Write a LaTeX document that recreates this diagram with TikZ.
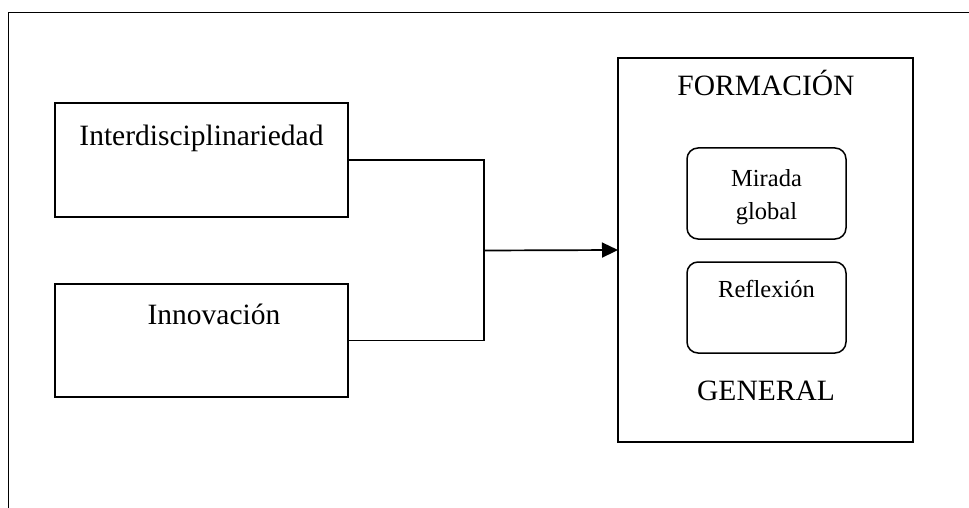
\documentclass[tikz,border=0pt]{standalone}
\usepackage{fontspec}
\setmainfont{Liberation Serif}
\usetikzlibrary{arrows.meta}
\tikzset{
  boxsq/.style={draw, line width=1.7pt, inner sep=0pt, outer sep=0pt},
  boxrd/.style={draw, line width=1.5pt, rounded corners=11pt, inner sep=0pt, outer sep=0pt},
  bigtxt/.style={font=\fontsize{29.5}{34}\selectfont, anchor=base, inner sep=0pt},
  smalltxt/.style={font=\fontsize{24.5}{33}\selectfont, anchor=base, inner sep=0pt},
  conn/.style={line width=1.7pt}
}
\begin{document}
\begin{tikzpicture}[x=1pt,y=-1pt]
\useasboundingbox (0,0) rectangle (969,508);
% outer frame (top and left edges only visible)
\coordinate (fa) at (8.5,508);
\coordinate (fb0) at (8.5,12.5);
\coordinate (fc) at (969,12.5);
\draw[line width=1.8pt] (fa) -- (fb0) -- (fc);
% left boxes
\node[boxsq, minimum width=293pt, minimum height=114pt] (b1) at (201.5,160) {};
\node[boxsq, minimum width=293pt, minimum height=113pt] (b2) at (201.5,340.5) {};
\node[bigtxt] (t1) at (201.5,146) {Interdisciplinariedad};
\node[bigtxt] (t2) at (214,324) {Innovación};
% right box
\node[boxsq, minimum width=295pt, minimum height=384pt] (fbox) at (765.5,250) {};
\node[bigtxt] (tf) at (766,96) {FORMACIÓN};
\node[bigtxt] (tg) at (766,400) {GENERAL};
\node[boxrd, minimum width=159pt, minimum height=91pt] (r1) at (766.5,193.5) {};
\node[boxrd, minimum width=159pt, minimum height=91pt] (r2) at (766.5,307.5) {};
\node[smalltxt] (tm1) at (766.5,186) {Mirada};
\node[smalltxt] (tm2) at (766.5,219) {global};
\node[smalltxt] (tr) at (766.5,297) {Reflexión};
% connectors
\coordinate (j) at (484,250.5);
\draw[conn] (b1.east) -| (j) |- (b2.east);
\draw[conn, -{Triangle[length=16pt, width=15pt]}] (j) -- (fbox.west);
\end{tikzpicture}
\end{document}
